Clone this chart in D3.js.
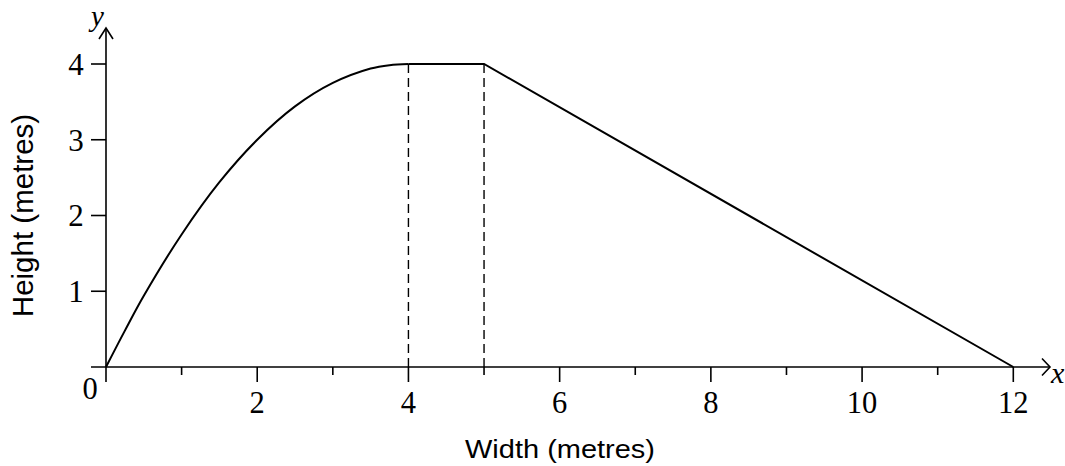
<!DOCTYPE html>
<html>
<head>
<meta charset="utf-8">
<script src="https://cdn.jsdelivr.net/npm/d3@7"></script>
<style>
  html, body { margin: 0; padding: 0; background: #fff; }
  svg { display: block; }
</style>
</head>
<body>
<svg id="chart" width="1065" height="466"></svg>
<script>
// ---- data ----
const curveX = [0, 0.25, 0.5, 1, 1.5, 2, 2.5, 3, 3.5, 3.75, 4];
const curveY = [0, 0.48, 0.94, 1.75, 2.44, 3, 3.44, 3.75, 3.94, 3.985, 4];
const lineX = [4, 5, 12];
const lineY = [4, 4, 0];
const dashedX = [4, 5];
const xTickLabels = [2, 4, 6, 8, 10, 12];
const xMinorTicks = [1, 3, 5, 7, 9, 11];
const yTickLabels = [1, 2, 3, 4];
const xTitle = "Width (metres)";
const yTitle = "Height (metres)";

const svg = d3.select("#chart");
const x = d3.scaleLinear().domain([0, 12]).range([106, 1013.3]);
const y = d3.scaleLinear().domain([0, 4]).range([367, 64]);

const serif = "'Liberation Serif', 'Times New Roman', serif";
const sans = "'Liberation Sans', Arial, sans-serif";
const sw = 1.6;

// axes lines
svg.append("line").attr("x1", 91).attr("x2", 1050).attr("y1", y(0)).attr("y2", y(0))
  .attr("stroke", "#000").attr("stroke-width", sw);
svg.append("line").attr("x1", x(0)).attr("x2", x(0)).attr("y1", 28).attr("y2", y(0) + 15)
  .attr("stroke", "#000").attr("stroke-width", sw);

// arrows
svg.append("path").attr("d", `M${1042},${y(0) - 8.5} L${1050},${y(0)} L${1042},${y(0) + 8.5}`)
  .attr("fill", "none").attr("stroke", "#000").attr("stroke-width", sw);
svg.append("path").attr("d", `M${x(0) - 7},39 L${x(0)},28 L${x(0) + 7},39`)
  .attr("fill", "none").attr("stroke", "#000").attr("stroke-width", sw);

// x ticks
svg.selectAll(".xmaj").data(xTickLabels).join("line")
  .attr("x1", d => x(d)).attr("x2", d => x(d)).attr("y1", y(0)).attr("y2", y(0) + 15)
  .attr("stroke", "#000").attr("stroke-width", sw);
svg.selectAll(".xmin").data(xMinorTicks).join("line")
  .attr("x1", d => x(d)).attr("x2", d => x(d)).attr("y1", y(0)).attr("y2", y(0) + 8)
  .attr("stroke", "#000").attr("stroke-width", sw);
svg.selectAll(".xlab").data(xTickLabels).join("text")
  .attr("x", d => x(d)).attr("y", 413).attr("text-anchor", "middle")
  .attr("font-family", serif).attr("font-size", 30.5).text(d => d);
svg.append("text").attr("x", 90).attr("y", 399).attr("text-anchor", "middle")
  .attr("font-family", serif).attr("font-size", 30.5).text("0");

// y ticks
svg.selectAll(".ytick").data(yTickLabels).join("line")
  .attr("x1", x(0) - 15).attr("x2", x(0)).attr("y1", d => y(d)).attr("y2", d => y(d))
  .attr("stroke", "#000").attr("stroke-width", sw);
svg.selectAll(".ylab").data(yTickLabels).join("text")
  .attr("x", 76).attr("y", d => y(d) + 10.8).attr("text-anchor", "middle")
  .attr("font-family", serif).attr("font-size", 31).text(d => d);

// axis letters
svg.append("text").attr("x", 1051).attr("y", 383).attr("font-family", serif)
  .attr("font-style", "italic").attr("font-size", 30).text("x");
svg.append("text").attr("x", 91).attr("y", 26).attr("font-family", serif)
  .attr("font-style", "italic").attr("font-size", 29).text("y");

// titles
svg.append("text").attr("x", 560).attr("y", 458).attr("text-anchor", "middle")
  .attr("font-family", sans).attr("font-size", 25.5)
  .attr("textLength", 190).attr("lengthAdjust", "spacingAndGlyphs").text(xTitle);
svg.append("text").attr("transform", "translate(33,215.5) rotate(-90)")
  .attr("text-anchor", "middle").attr("font-family", sans).attr("font-size", 29.5).text(yTitle);

// dashed verticals
svg.selectAll(".dash").data(dashedX).join("line")
  .attr("x1", d => x(d)).attr("x2", d => x(d)).attr("y1", y(4)).attr("y2", y(0))
  .attr("stroke", "#000").attr("stroke-width", 1.4).attr("stroke-dasharray", "9,5");

// curve
const curvePts = curveX.map((v, i) => [v, curveY[i]]);
svg.append("path").datum(curvePts)
  .attr("d", d3.line().x(d => x(d[0])).y(d => y(d[1])).curve(d3.curveCatmullRom))
  .attr("fill", "none").attr("stroke", "#000").attr("stroke-width", 2);
const linePts = lineX.map((v, i) => [v, lineY[i]]);
svg.append("path").datum(linePts)
  .attr("d", d3.line().x(d => x(d[0])).y(d => y(d[1])))
  .attr("fill", "none").attr("stroke", "#000").attr("stroke-width", 2);
</script>
</body>
</html>
